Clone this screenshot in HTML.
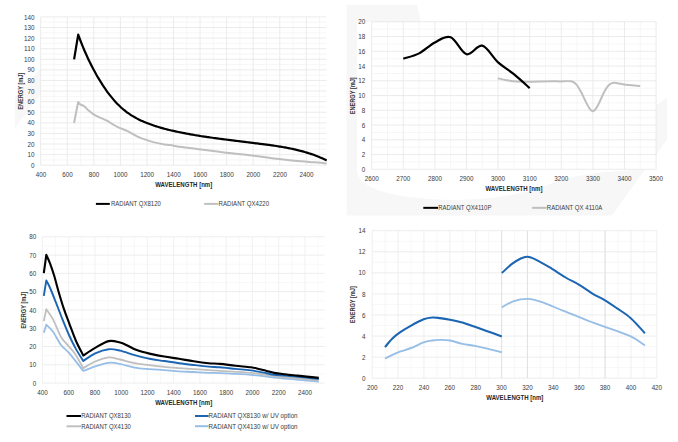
<!DOCTYPE html>
<html><head><meta charset="utf-8"><style>
html,body{margin:0;padding:0;background:#fff;width:678px;height:442px;overflow:hidden}
svg{display:block;font-family:"Liberation Sans",sans-serif}
</style></head><body>
<svg width="678" height="442" viewBox="0 0 678 442" font-family="Liberation Sans, sans-serif">
<rect x="0" y="0" width="678" height="442" fill="#ffffff"/>
<path d="M15 128 L15 98 L40.6 68 L40.6 94 Z" fill="#f7f7f7"/>
<path d="M346.5 5 L417 5 L421 22 L357 22 L357 172 C360 187 385 196 430 199 C470 202 510 198 545 186 C570 175 610 170 644.5 170 L612 215.5 L346.5 215.5 Z" fill="#f7f7f7"/>
<path d="M656 105 L667 98 L667 139 L656 155 Z" fill="#f7f7f7"/>
<line x1="53.98" y1="16.9" x2="53.98" y2="165.2" stroke="#f5f5f5" stroke-width="0.9"/>
<line x1="80.54" y1="16.9" x2="80.54" y2="165.2" stroke="#f5f5f5" stroke-width="0.9"/>
<line x1="107.1" y1="16.9" x2="107.1" y2="165.2" stroke="#f5f5f5" stroke-width="0.9"/>
<line x1="133.66" y1="16.9" x2="133.66" y2="165.2" stroke="#f5f5f5" stroke-width="0.9"/>
<line x1="160.22" y1="16.9" x2="160.22" y2="165.2" stroke="#f5f5f5" stroke-width="0.9"/>
<line x1="186.78" y1="16.9" x2="186.78" y2="165.2" stroke="#f5f5f5" stroke-width="0.9"/>
<line x1="213.34" y1="16.9" x2="213.34" y2="165.2" stroke="#f5f5f5" stroke-width="0.9"/>
<line x1="239.9" y1="16.9" x2="239.9" y2="165.2" stroke="#f5f5f5" stroke-width="0.9"/>
<line x1="266.46" y1="16.9" x2="266.46" y2="165.2" stroke="#f5f5f5" stroke-width="0.9"/>
<line x1="293.02" y1="16.9" x2="293.02" y2="165.2" stroke="#f5f5f5" stroke-width="0.9"/>
<line x1="319.58" y1="16.9" x2="319.58" y2="165.2" stroke="#f5f5f5" stroke-width="0.9"/>
<line x1="40.7" y1="159.9" x2="326.3" y2="159.9" stroke="#f5f5f5" stroke-width="0.9"/>
<line x1="40.7" y1="149.31" x2="326.3" y2="149.31" stroke="#f5f5f5" stroke-width="0.9"/>
<line x1="40.7" y1="138.72" x2="326.3" y2="138.72" stroke="#f5f5f5" stroke-width="0.9"/>
<line x1="40.7" y1="128.12" x2="326.3" y2="128.12" stroke="#f5f5f5" stroke-width="0.9"/>
<line x1="40.7" y1="117.53" x2="326.3" y2="117.53" stroke="#f5f5f5" stroke-width="0.9"/>
<line x1="40.7" y1="106.94" x2="326.3" y2="106.94" stroke="#f5f5f5" stroke-width="0.9"/>
<line x1="40.7" y1="96.35" x2="326.3" y2="96.35" stroke="#f5f5f5" stroke-width="0.9"/>
<line x1="40.7" y1="85.75" x2="326.3" y2="85.75" stroke="#f5f5f5" stroke-width="0.9"/>
<line x1="40.7" y1="75.16" x2="326.3" y2="75.16" stroke="#f5f5f5" stroke-width="0.9"/>
<line x1="40.7" y1="64.57" x2="326.3" y2="64.57" stroke="#f5f5f5" stroke-width="0.9"/>
<line x1="40.7" y1="53.97" x2="326.3" y2="53.97" stroke="#f5f5f5" stroke-width="0.9"/>
<line x1="40.7" y1="43.38" x2="326.3" y2="43.38" stroke="#f5f5f5" stroke-width="0.9"/>
<line x1="40.7" y1="32.79" x2="326.3" y2="32.79" stroke="#f5f5f5" stroke-width="0.9"/>
<line x1="40.7" y1="22.2" x2="326.3" y2="22.2" stroke="#f5f5f5" stroke-width="0.9"/>
<line x1="40.7" y1="16.9" x2="40.7" y2="165.2" stroke="#e9e9e9" stroke-width="0.9"/>
<line x1="67.26" y1="16.9" x2="67.26" y2="165.2" stroke="#e9e9e9" stroke-width="0.9"/>
<line x1="93.82" y1="16.9" x2="93.82" y2="165.2" stroke="#e9e9e9" stroke-width="0.9"/>
<line x1="120.38" y1="16.9" x2="120.38" y2="165.2" stroke="#e9e9e9" stroke-width="0.9"/>
<line x1="146.94" y1="16.9" x2="146.94" y2="165.2" stroke="#e9e9e9" stroke-width="0.9"/>
<line x1="173.5" y1="16.9" x2="173.5" y2="165.2" stroke="#e9e9e9" stroke-width="0.9"/>
<line x1="200.06" y1="16.9" x2="200.06" y2="165.2" stroke="#e9e9e9" stroke-width="0.9"/>
<line x1="226.62" y1="16.9" x2="226.62" y2="165.2" stroke="#e9e9e9" stroke-width="0.9"/>
<line x1="253.18" y1="16.9" x2="253.18" y2="165.2" stroke="#e9e9e9" stroke-width="0.9"/>
<line x1="279.74" y1="16.9" x2="279.74" y2="165.2" stroke="#e9e9e9" stroke-width="0.9"/>
<line x1="306.3" y1="16.9" x2="306.3" y2="165.2" stroke="#e9e9e9" stroke-width="0.9"/>
<line x1="40.7" y1="165.2" x2="326.3" y2="165.2" stroke="#e9e9e9" stroke-width="0.9"/>
<line x1="40.7" y1="154.61" x2="326.3" y2="154.61" stroke="#e9e9e9" stroke-width="0.9"/>
<line x1="40.7" y1="144.01" x2="326.3" y2="144.01" stroke="#e9e9e9" stroke-width="0.9"/>
<line x1="40.7" y1="133.42" x2="326.3" y2="133.42" stroke="#e9e9e9" stroke-width="0.9"/>
<line x1="40.7" y1="122.83" x2="326.3" y2="122.83" stroke="#e9e9e9" stroke-width="0.9"/>
<line x1="40.7" y1="112.24" x2="326.3" y2="112.24" stroke="#e9e9e9" stroke-width="0.9"/>
<line x1="40.7" y1="101.64" x2="326.3" y2="101.64" stroke="#e9e9e9" stroke-width="0.9"/>
<line x1="40.7" y1="91.05" x2="326.3" y2="91.05" stroke="#e9e9e9" stroke-width="0.9"/>
<line x1="40.7" y1="80.46" x2="326.3" y2="80.46" stroke="#e9e9e9" stroke-width="0.9"/>
<line x1="40.7" y1="69.86" x2="326.3" y2="69.86" stroke="#e9e9e9" stroke-width="0.9"/>
<line x1="40.7" y1="59.27" x2="326.3" y2="59.27" stroke="#e9e9e9" stroke-width="0.9"/>
<line x1="40.7" y1="48.68" x2="326.3" y2="48.68" stroke="#e9e9e9" stroke-width="0.9"/>
<line x1="40.7" y1="38.09" x2="326.3" y2="38.09" stroke="#e9e9e9" stroke-width="0.9"/>
<line x1="40.7" y1="27.49" x2="326.3" y2="27.49" stroke="#e9e9e9" stroke-width="0.9"/>
<line x1="40.7" y1="16.9" x2="326.3" y2="16.9" stroke="#e9e9e9" stroke-width="0.9"/>
<text x="40.9" y="177" text-anchor="middle" font-size="6.8" font-weight="normal" fill="#3a3a3a" textLength="10.5" lengthAdjust="spacingAndGlyphs">400</text>
<text x="67.46" y="177" text-anchor="middle" font-size="6.8" font-weight="normal" fill="#3a3a3a" textLength="10.5" lengthAdjust="spacingAndGlyphs">600</text>
<text x="94.02" y="177" text-anchor="middle" font-size="6.8" font-weight="normal" fill="#3a3a3a" textLength="10.5" lengthAdjust="spacingAndGlyphs">800</text>
<text x="120.58" y="177" text-anchor="middle" font-size="6.8" font-weight="normal" fill="#3a3a3a" textLength="14" lengthAdjust="spacingAndGlyphs">1000</text>
<text x="147.14" y="177" text-anchor="middle" font-size="6.8" font-weight="normal" fill="#3a3a3a" textLength="14" lengthAdjust="spacingAndGlyphs">1200</text>
<text x="173.7" y="177" text-anchor="middle" font-size="6.8" font-weight="normal" fill="#3a3a3a" textLength="14" lengthAdjust="spacingAndGlyphs">1400</text>
<text x="200.26" y="177" text-anchor="middle" font-size="6.8" font-weight="normal" fill="#3a3a3a" textLength="14" lengthAdjust="spacingAndGlyphs">1600</text>
<text x="226.82" y="177" text-anchor="middle" font-size="6.8" font-weight="normal" fill="#3a3a3a" textLength="14" lengthAdjust="spacingAndGlyphs">1800</text>
<text x="253.38" y="177" text-anchor="middle" font-size="6.8" font-weight="normal" fill="#3a3a3a" textLength="14" lengthAdjust="spacingAndGlyphs">2000</text>
<text x="279.94" y="177" text-anchor="middle" font-size="6.8" font-weight="normal" fill="#3a3a3a" textLength="14" lengthAdjust="spacingAndGlyphs">2200</text>
<text x="306.5" y="177" text-anchor="middle" font-size="6.8" font-weight="normal" fill="#3a3a3a" textLength="14" lengthAdjust="spacingAndGlyphs">2400</text>
<text x="34.6" y="167.8" text-anchor="end" font-size="6.8" font-weight="normal" fill="#3a3a3a" textLength="3.5" lengthAdjust="spacingAndGlyphs">0</text>
<text x="34.6" y="157.21" text-anchor="end" font-size="6.8" font-weight="normal" fill="#3a3a3a" textLength="7" lengthAdjust="spacingAndGlyphs">10</text>
<text x="34.6" y="146.61" text-anchor="end" font-size="6.8" font-weight="normal" fill="#3a3a3a" textLength="7" lengthAdjust="spacingAndGlyphs">20</text>
<text x="34.6" y="136.02" text-anchor="end" font-size="6.8" font-weight="normal" fill="#3a3a3a" textLength="7" lengthAdjust="spacingAndGlyphs">30</text>
<text x="34.6" y="125.43" text-anchor="end" font-size="6.8" font-weight="normal" fill="#3a3a3a" textLength="7" lengthAdjust="spacingAndGlyphs">40</text>
<text x="34.6" y="114.84" text-anchor="end" font-size="6.8" font-weight="normal" fill="#3a3a3a" textLength="7" lengthAdjust="spacingAndGlyphs">50</text>
<text x="34.6" y="104.24" text-anchor="end" font-size="6.8" font-weight="normal" fill="#3a3a3a" textLength="7" lengthAdjust="spacingAndGlyphs">60</text>
<text x="34.6" y="93.65" text-anchor="end" font-size="6.8" font-weight="normal" fill="#3a3a3a" textLength="7" lengthAdjust="spacingAndGlyphs">70</text>
<text x="34.6" y="83.06" text-anchor="end" font-size="6.8" font-weight="normal" fill="#3a3a3a" textLength="7" lengthAdjust="spacingAndGlyphs">80</text>
<text x="34.6" y="72.46" text-anchor="end" font-size="6.8" font-weight="normal" fill="#3a3a3a" textLength="7" lengthAdjust="spacingAndGlyphs">90</text>
<text x="34.6" y="61.87" text-anchor="end" font-size="6.8" font-weight="normal" fill="#3a3a3a" textLength="10.5" lengthAdjust="spacingAndGlyphs">100</text>
<text x="34.6" y="51.28" text-anchor="end" font-size="6.8" font-weight="normal" fill="#3a3a3a" textLength="10.5" lengthAdjust="spacingAndGlyphs">110</text>
<text x="34.6" y="40.69" text-anchor="end" font-size="6.8" font-weight="normal" fill="#3a3a3a" textLength="10.5" lengthAdjust="spacingAndGlyphs">120</text>
<text x="34.6" y="30.09" text-anchor="end" font-size="6.8" font-weight="normal" fill="#3a3a3a" textLength="10.5" lengthAdjust="spacingAndGlyphs">130</text>
<text x="34.6" y="19.5" text-anchor="end" font-size="6.8" font-weight="normal" fill="#3a3a3a" textLength="10.5" lengthAdjust="spacingAndGlyphs">140</text>
<line x1="387.5" y1="21.8" x2="387.5" y2="169.3" stroke="#f5f5f5" stroke-width="0.9"/>
<line x1="419.1" y1="21.8" x2="419.1" y2="169.3" stroke="#f5f5f5" stroke-width="0.9"/>
<line x1="450.7" y1="21.8" x2="450.7" y2="169.3" stroke="#f5f5f5" stroke-width="0.9"/>
<line x1="482.3" y1="21.8" x2="482.3" y2="169.3" stroke="#f5f5f5" stroke-width="0.9"/>
<line x1="513.9" y1="21.8" x2="513.9" y2="169.3" stroke="#f5f5f5" stroke-width="0.9"/>
<line x1="545.5" y1="21.8" x2="545.5" y2="169.3" stroke="#f5f5f5" stroke-width="0.9"/>
<line x1="577.1" y1="21.8" x2="577.1" y2="169.3" stroke="#f5f5f5" stroke-width="0.9"/>
<line x1="608.7" y1="21.8" x2="608.7" y2="169.3" stroke="#f5f5f5" stroke-width="0.9"/>
<line x1="640.3" y1="21.8" x2="640.3" y2="169.3" stroke="#f5f5f5" stroke-width="0.9"/>
<line x1="371.7" y1="161.93" x2="656.1" y2="161.93" stroke="#f5f5f5" stroke-width="0.9"/>
<line x1="371.7" y1="147.18" x2="656.1" y2="147.18" stroke="#f5f5f5" stroke-width="0.9"/>
<line x1="371.7" y1="132.43" x2="656.1" y2="132.43" stroke="#f5f5f5" stroke-width="0.9"/>
<line x1="371.7" y1="117.68" x2="656.1" y2="117.68" stroke="#f5f5f5" stroke-width="0.9"/>
<line x1="371.7" y1="102.93" x2="656.1" y2="102.93" stroke="#f5f5f5" stroke-width="0.9"/>
<line x1="371.7" y1="88.18" x2="656.1" y2="88.18" stroke="#f5f5f5" stroke-width="0.9"/>
<line x1="371.7" y1="73.43" x2="656.1" y2="73.43" stroke="#f5f5f5" stroke-width="0.9"/>
<line x1="371.7" y1="58.68" x2="656.1" y2="58.68" stroke="#f5f5f5" stroke-width="0.9"/>
<line x1="371.7" y1="43.93" x2="656.1" y2="43.93" stroke="#f5f5f5" stroke-width="0.9"/>
<line x1="371.7" y1="29.18" x2="656.1" y2="29.18" stroke="#f5f5f5" stroke-width="0.9"/>
<line x1="371.7" y1="21.8" x2="371.7" y2="169.3" stroke="#e9e9e9" stroke-width="0.9"/>
<line x1="403.3" y1="21.8" x2="403.3" y2="169.3" stroke="#e9e9e9" stroke-width="0.9"/>
<line x1="434.9" y1="21.8" x2="434.9" y2="169.3" stroke="#e9e9e9" stroke-width="0.9"/>
<line x1="466.5" y1="21.8" x2="466.5" y2="169.3" stroke="#e9e9e9" stroke-width="0.9"/>
<line x1="498.1" y1="21.8" x2="498.1" y2="169.3" stroke="#e9e9e9" stroke-width="0.9"/>
<line x1="529.7" y1="21.8" x2="529.7" y2="169.3" stroke="#e9e9e9" stroke-width="0.9"/>
<line x1="561.3" y1="21.8" x2="561.3" y2="169.3" stroke="#e9e9e9" stroke-width="0.9"/>
<line x1="592.9" y1="21.8" x2="592.9" y2="169.3" stroke="#e9e9e9" stroke-width="0.9"/>
<line x1="624.5" y1="21.8" x2="624.5" y2="169.3" stroke="#e9e9e9" stroke-width="0.9"/>
<line x1="656.1" y1="21.8" x2="656.1" y2="169.3" stroke="#e9e9e9" stroke-width="0.9"/>
<line x1="371.7" y1="169.3" x2="656.1" y2="169.3" stroke="#e9e9e9" stroke-width="0.9"/>
<line x1="371.7" y1="154.55" x2="656.1" y2="154.55" stroke="#e9e9e9" stroke-width="0.9"/>
<line x1="371.7" y1="139.8" x2="656.1" y2="139.8" stroke="#e9e9e9" stroke-width="0.9"/>
<line x1="371.7" y1="125.05" x2="656.1" y2="125.05" stroke="#e9e9e9" stroke-width="0.9"/>
<line x1="371.7" y1="110.3" x2="656.1" y2="110.3" stroke="#e9e9e9" stroke-width="0.9"/>
<line x1="371.7" y1="95.55" x2="656.1" y2="95.55" stroke="#e9e9e9" stroke-width="0.9"/>
<line x1="371.7" y1="80.8" x2="656.1" y2="80.8" stroke="#e9e9e9" stroke-width="0.9"/>
<line x1="371.7" y1="66.05" x2="656.1" y2="66.05" stroke="#e9e9e9" stroke-width="0.9"/>
<line x1="371.7" y1="51.3" x2="656.1" y2="51.3" stroke="#e9e9e9" stroke-width="0.9"/>
<line x1="371.7" y1="36.55" x2="656.1" y2="36.55" stroke="#e9e9e9" stroke-width="0.9"/>
<line x1="371.7" y1="21.8" x2="656.1" y2="21.8" stroke="#e9e9e9" stroke-width="0.9"/>
<text x="371.7" y="181.1" text-anchor="middle" font-size="6.8" font-weight="normal" fill="#3a3a3a" textLength="14" lengthAdjust="spacingAndGlyphs">2600</text>
<text x="403.3" y="181.1" text-anchor="middle" font-size="6.8" font-weight="normal" fill="#3a3a3a" textLength="14" lengthAdjust="spacingAndGlyphs">2700</text>
<text x="434.9" y="181.1" text-anchor="middle" font-size="6.8" font-weight="normal" fill="#3a3a3a" textLength="14" lengthAdjust="spacingAndGlyphs">2800</text>
<text x="466.5" y="181.1" text-anchor="middle" font-size="6.8" font-weight="normal" fill="#3a3a3a" textLength="14" lengthAdjust="spacingAndGlyphs">2900</text>
<text x="498.1" y="181.1" text-anchor="middle" font-size="6.8" font-weight="normal" fill="#3a3a3a" textLength="14" lengthAdjust="spacingAndGlyphs">3000</text>
<text x="529.7" y="181.1" text-anchor="middle" font-size="6.8" font-weight="normal" fill="#3a3a3a" textLength="14" lengthAdjust="spacingAndGlyphs">3100</text>
<text x="561.3" y="181.1" text-anchor="middle" font-size="6.8" font-weight="normal" fill="#3a3a3a" textLength="14" lengthAdjust="spacingAndGlyphs">3200</text>
<text x="592.9" y="181.1" text-anchor="middle" font-size="6.8" font-weight="normal" fill="#3a3a3a" textLength="14" lengthAdjust="spacingAndGlyphs">3300</text>
<text x="624.5" y="181.1" text-anchor="middle" font-size="6.8" font-weight="normal" fill="#3a3a3a" textLength="14" lengthAdjust="spacingAndGlyphs">3400</text>
<text x="656.1" y="181.1" text-anchor="middle" font-size="6.8" font-weight="normal" fill="#3a3a3a" textLength="14" lengthAdjust="spacingAndGlyphs">3500</text>
<text x="365.2" y="171.9" text-anchor="end" font-size="6.8" font-weight="normal" fill="#3a3a3a" textLength="3.5" lengthAdjust="spacingAndGlyphs">0</text>
<text x="365.2" y="157.15" text-anchor="end" font-size="6.8" font-weight="normal" fill="#3a3a3a" textLength="3.5" lengthAdjust="spacingAndGlyphs">2</text>
<text x="365.2" y="142.4" text-anchor="end" font-size="6.8" font-weight="normal" fill="#3a3a3a" textLength="3.5" lengthAdjust="spacingAndGlyphs">4</text>
<text x="365.2" y="127.65" text-anchor="end" font-size="6.8" font-weight="normal" fill="#3a3a3a" textLength="3.5" lengthAdjust="spacingAndGlyphs">6</text>
<text x="365.2" y="112.9" text-anchor="end" font-size="6.8" font-weight="normal" fill="#3a3a3a" textLength="3.5" lengthAdjust="spacingAndGlyphs">8</text>
<text x="365.2" y="98.15" text-anchor="end" font-size="6.8" font-weight="normal" fill="#3a3a3a" textLength="7" lengthAdjust="spacingAndGlyphs">10</text>
<text x="365.2" y="83.4" text-anchor="end" font-size="6.8" font-weight="normal" fill="#3a3a3a" textLength="7" lengthAdjust="spacingAndGlyphs">12</text>
<text x="365.2" y="68.65" text-anchor="end" font-size="6.8" font-weight="normal" fill="#3a3a3a" textLength="7" lengthAdjust="spacingAndGlyphs">14</text>
<text x="365.2" y="53.9" text-anchor="end" font-size="6.8" font-weight="normal" fill="#3a3a3a" textLength="7" lengthAdjust="spacingAndGlyphs">16</text>
<text x="365.2" y="39.15" text-anchor="end" font-size="6.8" font-weight="normal" fill="#3a3a3a" textLength="7" lengthAdjust="spacingAndGlyphs">18</text>
<text x="365.2" y="24.4" text-anchor="end" font-size="6.8" font-weight="normal" fill="#3a3a3a" textLength="7" lengthAdjust="spacingAndGlyphs">20</text>
<line x1="55.52" y1="236.8" x2="55.52" y2="383.1" stroke="#f7f7f7" stroke-width="0.9"/>
<line x1="81.78" y1="236.8" x2="81.78" y2="383.1" stroke="#f7f7f7" stroke-width="0.9"/>
<line x1="108.03" y1="236.8" x2="108.03" y2="383.1" stroke="#f7f7f7" stroke-width="0.9"/>
<line x1="134.28" y1="236.8" x2="134.28" y2="383.1" stroke="#f7f7f7" stroke-width="0.9"/>
<line x1="160.53" y1="236.8" x2="160.53" y2="383.1" stroke="#f7f7f7" stroke-width="0.9"/>
<line x1="186.78" y1="236.8" x2="186.78" y2="383.1" stroke="#f7f7f7" stroke-width="0.9"/>
<line x1="213.03" y1="236.8" x2="213.03" y2="383.1" stroke="#f7f7f7" stroke-width="0.9"/>
<line x1="239.28" y1="236.8" x2="239.28" y2="383.1" stroke="#f7f7f7" stroke-width="0.9"/>
<line x1="265.52" y1="236.8" x2="265.52" y2="383.1" stroke="#f7f7f7" stroke-width="0.9"/>
<line x1="291.77" y1="236.8" x2="291.77" y2="383.1" stroke="#f7f7f7" stroke-width="0.9"/>
<line x1="318.02" y1="236.8" x2="318.02" y2="383.1" stroke="#f7f7f7" stroke-width="0.9"/>
<line x1="42.4" y1="373.96" x2="324.6" y2="373.96" stroke="#f7f7f7" stroke-width="0.9"/>
<line x1="42.4" y1="355.67" x2="324.6" y2="355.67" stroke="#f7f7f7" stroke-width="0.9"/>
<line x1="42.4" y1="337.38" x2="324.6" y2="337.38" stroke="#f7f7f7" stroke-width="0.9"/>
<line x1="42.4" y1="319.09" x2="324.6" y2="319.09" stroke="#f7f7f7" stroke-width="0.9"/>
<line x1="42.4" y1="300.81" x2="324.6" y2="300.81" stroke="#f7f7f7" stroke-width="0.9"/>
<line x1="42.4" y1="282.52" x2="324.6" y2="282.52" stroke="#f7f7f7" stroke-width="0.9"/>
<line x1="42.4" y1="264.23" x2="324.6" y2="264.23" stroke="#f7f7f7" stroke-width="0.9"/>
<line x1="42.4" y1="245.94" x2="324.6" y2="245.94" stroke="#f7f7f7" stroke-width="0.9"/>
<line x1="42.4" y1="236.8" x2="42.4" y2="383.1" stroke="#efefef" stroke-width="0.9"/>
<line x1="68.65" y1="236.8" x2="68.65" y2="383.1" stroke="#efefef" stroke-width="0.9"/>
<line x1="94.9" y1="236.8" x2="94.9" y2="383.1" stroke="#efefef" stroke-width="0.9"/>
<line x1="121.15" y1="236.8" x2="121.15" y2="383.1" stroke="#efefef" stroke-width="0.9"/>
<line x1="147.4" y1="236.8" x2="147.4" y2="383.1" stroke="#efefef" stroke-width="0.9"/>
<line x1="173.65" y1="236.8" x2="173.65" y2="383.1" stroke="#efefef" stroke-width="0.9"/>
<line x1="199.9" y1="236.8" x2="199.9" y2="383.1" stroke="#efefef" stroke-width="0.9"/>
<line x1="226.15" y1="236.8" x2="226.15" y2="383.1" stroke="#efefef" stroke-width="0.9"/>
<line x1="252.4" y1="236.8" x2="252.4" y2="383.1" stroke="#efefef" stroke-width="0.9"/>
<line x1="278.65" y1="236.8" x2="278.65" y2="383.1" stroke="#efefef" stroke-width="0.9"/>
<line x1="304.9" y1="236.8" x2="304.9" y2="383.1" stroke="#efefef" stroke-width="0.9"/>
<line x1="42.4" y1="383.1" x2="324.6" y2="383.1" stroke="#ebebeb" stroke-width="0.9"/>
<line x1="42.4" y1="364.81" x2="324.6" y2="364.81" stroke="#ebebeb" stroke-width="0.9"/>
<line x1="42.4" y1="346.53" x2="324.6" y2="346.53" stroke="#ebebeb" stroke-width="0.9"/>
<line x1="42.4" y1="328.24" x2="324.6" y2="328.24" stroke="#ebebeb" stroke-width="0.9"/>
<line x1="42.4" y1="309.95" x2="324.6" y2="309.95" stroke="#ebebeb" stroke-width="0.9"/>
<line x1="42.4" y1="291.66" x2="324.6" y2="291.66" stroke="#ebebeb" stroke-width="0.9"/>
<line x1="42.4" y1="273.38" x2="324.6" y2="273.38" stroke="#ebebeb" stroke-width="0.9"/>
<line x1="42.4" y1="255.09" x2="324.6" y2="255.09" stroke="#ebebeb" stroke-width="0.9"/>
<line x1="42.4" y1="236.8" x2="324.6" y2="236.8" stroke="#ebebeb" stroke-width="0.9"/>
<text x="42.4" y="394.6" text-anchor="middle" font-size="6.8" font-weight="normal" fill="#3a3a3a" textLength="10.5" lengthAdjust="spacingAndGlyphs">400</text>
<text x="68.65" y="394.6" text-anchor="middle" font-size="6.8" font-weight="normal" fill="#3a3a3a" textLength="10.5" lengthAdjust="spacingAndGlyphs">600</text>
<text x="94.9" y="394.6" text-anchor="middle" font-size="6.8" font-weight="normal" fill="#3a3a3a" textLength="10.5" lengthAdjust="spacingAndGlyphs">800</text>
<text x="121.15" y="394.6" text-anchor="middle" font-size="6.8" font-weight="normal" fill="#3a3a3a" textLength="14" lengthAdjust="spacingAndGlyphs">1000</text>
<text x="147.4" y="394.6" text-anchor="middle" font-size="6.8" font-weight="normal" fill="#3a3a3a" textLength="14" lengthAdjust="spacingAndGlyphs">1200</text>
<text x="173.65" y="394.6" text-anchor="middle" font-size="6.8" font-weight="normal" fill="#3a3a3a" textLength="14" lengthAdjust="spacingAndGlyphs">1400</text>
<text x="199.9" y="394.6" text-anchor="middle" font-size="6.8" font-weight="normal" fill="#3a3a3a" textLength="14" lengthAdjust="spacingAndGlyphs">1600</text>
<text x="226.15" y="394.6" text-anchor="middle" font-size="6.8" font-weight="normal" fill="#3a3a3a" textLength="14" lengthAdjust="spacingAndGlyphs">1800</text>
<text x="252.4" y="394.6" text-anchor="middle" font-size="6.8" font-weight="normal" fill="#3a3a3a" textLength="14" lengthAdjust="spacingAndGlyphs">2000</text>
<text x="278.65" y="394.6" text-anchor="middle" font-size="6.8" font-weight="normal" fill="#3a3a3a" textLength="14" lengthAdjust="spacingAndGlyphs">2200</text>
<text x="304.9" y="394.6" text-anchor="middle" font-size="6.8" font-weight="normal" fill="#3a3a3a" textLength="14" lengthAdjust="spacingAndGlyphs">2400</text>
<text x="36.2" y="385.7" text-anchor="end" font-size="6.8" font-weight="normal" fill="#3a3a3a" textLength="3.5" lengthAdjust="spacingAndGlyphs">0</text>
<text x="36.2" y="367.41" text-anchor="end" font-size="6.8" font-weight="normal" fill="#3a3a3a" textLength="7" lengthAdjust="spacingAndGlyphs">10</text>
<text x="36.2" y="349.13" text-anchor="end" font-size="6.8" font-weight="normal" fill="#3a3a3a" textLength="7" lengthAdjust="spacingAndGlyphs">20</text>
<text x="36.2" y="330.84" text-anchor="end" font-size="6.8" font-weight="normal" fill="#3a3a3a" textLength="7" lengthAdjust="spacingAndGlyphs">30</text>
<text x="36.2" y="312.55" text-anchor="end" font-size="6.8" font-weight="normal" fill="#3a3a3a" textLength="7" lengthAdjust="spacingAndGlyphs">40</text>
<text x="36.2" y="294.26" text-anchor="end" font-size="6.8" font-weight="normal" fill="#3a3a3a" textLength="7" lengthAdjust="spacingAndGlyphs">50</text>
<text x="36.2" y="275.98" text-anchor="end" font-size="6.8" font-weight="normal" fill="#3a3a3a" textLength="7" lengthAdjust="spacingAndGlyphs">60</text>
<text x="36.2" y="257.69" text-anchor="end" font-size="6.8" font-weight="normal" fill="#3a3a3a" textLength="7" lengthAdjust="spacingAndGlyphs">70</text>
<text x="36.2" y="239.4" text-anchor="end" font-size="6.8" font-weight="normal" fill="#3a3a3a" textLength="7" lengthAdjust="spacingAndGlyphs">80</text>
<line x1="385.14" y1="230.7" x2="385.14" y2="378.2" stroke="#f6f6f6" stroke-width="0.9"/>
<line x1="411.02" y1="230.7" x2="411.02" y2="378.2" stroke="#f6f6f6" stroke-width="0.9"/>
<line x1="436.9" y1="230.7" x2="436.9" y2="378.2" stroke="#f6f6f6" stroke-width="0.9"/>
<line x1="462.78" y1="230.7" x2="462.78" y2="378.2" stroke="#f6f6f6" stroke-width="0.9"/>
<line x1="488.66" y1="230.7" x2="488.66" y2="378.2" stroke="#f6f6f6" stroke-width="0.9"/>
<line x1="514.54" y1="230.7" x2="514.54" y2="378.2" stroke="#f6f6f6" stroke-width="0.9"/>
<line x1="540.42" y1="230.7" x2="540.42" y2="378.2" stroke="#f6f6f6" stroke-width="0.9"/>
<line x1="566.3" y1="230.7" x2="566.3" y2="378.2" stroke="#f6f6f6" stroke-width="0.9"/>
<line x1="592.18" y1="230.7" x2="592.18" y2="378.2" stroke="#f6f6f6" stroke-width="0.9"/>
<line x1="618.06" y1="230.7" x2="618.06" y2="378.2" stroke="#f6f6f6" stroke-width="0.9"/>
<line x1="643.94" y1="230.7" x2="643.94" y2="378.2" stroke="#f6f6f6" stroke-width="0.9"/>
<line x1="372.2" y1="367.66" x2="656.9" y2="367.66" stroke="#f6f6f6" stroke-width="0.9"/>
<line x1="372.2" y1="346.59" x2="656.9" y2="346.59" stroke="#f6f6f6" stroke-width="0.9"/>
<line x1="372.2" y1="325.52" x2="656.9" y2="325.52" stroke="#f6f6f6" stroke-width="0.9"/>
<line x1="372.2" y1="304.45" x2="656.9" y2="304.45" stroke="#f6f6f6" stroke-width="0.9"/>
<line x1="372.2" y1="283.38" x2="656.9" y2="283.38" stroke="#f6f6f6" stroke-width="0.9"/>
<line x1="372.2" y1="262.31" x2="656.9" y2="262.31" stroke="#f6f6f6" stroke-width="0.9"/>
<line x1="372.2" y1="241.24" x2="656.9" y2="241.24" stroke="#f6f6f6" stroke-width="0.9"/>
<line x1="372.2" y1="230.7" x2="372.2" y2="378.2" stroke="#ededed" stroke-width="0.9"/>
<line x1="398.08" y1="230.7" x2="398.08" y2="378.2" stroke="#ededed" stroke-width="0.9"/>
<line x1="423.96" y1="230.7" x2="423.96" y2="378.2" stroke="#ededed" stroke-width="0.9"/>
<line x1="449.84" y1="230.7" x2="449.84" y2="378.2" stroke="#ededed" stroke-width="0.9"/>
<line x1="475.72" y1="230.7" x2="475.72" y2="378.2" stroke="#ededed" stroke-width="0.9"/>
<line x1="501.6" y1="230.7" x2="501.6" y2="378.2" stroke="#ededed" stroke-width="0.9"/>
<line x1="527.48" y1="230.7" x2="527.48" y2="378.2" stroke="#ededed" stroke-width="0.9"/>
<line x1="553.36" y1="230.7" x2="553.36" y2="378.2" stroke="#ededed" stroke-width="0.9"/>
<line x1="579.24" y1="230.7" x2="579.24" y2="378.2" stroke="#ededed" stroke-width="0.9"/>
<line x1="605.12" y1="230.7" x2="605.12" y2="378.2" stroke="#ededed" stroke-width="0.9"/>
<line x1="631" y1="230.7" x2="631" y2="378.2" stroke="#ededed" stroke-width="0.9"/>
<line x1="656.88" y1="230.7" x2="656.88" y2="378.2" stroke="#ededed" stroke-width="0.9"/>
<line x1="372.2" y1="378.2" x2="656.9" y2="378.2" stroke="#ebebeb" stroke-width="0.9"/>
<line x1="372.2" y1="357.13" x2="656.9" y2="357.13" stroke="#ebebeb" stroke-width="0.9"/>
<line x1="372.2" y1="336.06" x2="656.9" y2="336.06" stroke="#ebebeb" stroke-width="0.9"/>
<line x1="372.2" y1="314.99" x2="656.9" y2="314.99" stroke="#ebebeb" stroke-width="0.9"/>
<line x1="372.2" y1="293.91" x2="656.9" y2="293.91" stroke="#ebebeb" stroke-width="0.9"/>
<line x1="372.2" y1="272.84" x2="656.9" y2="272.84" stroke="#ebebeb" stroke-width="0.9"/>
<line x1="372.2" y1="251.77" x2="656.9" y2="251.77" stroke="#ebebeb" stroke-width="0.9"/>
<line x1="372.2" y1="230.7" x2="656.9" y2="230.7" stroke="#ebebeb" stroke-width="0.9"/>
<text x="372.2" y="390.2" text-anchor="middle" font-size="6.8" font-weight="normal" fill="#3a3a3a" textLength="10.5" lengthAdjust="spacingAndGlyphs">200</text>
<text x="398.08" y="390.2" text-anchor="middle" font-size="6.8" font-weight="normal" fill="#3a3a3a" textLength="10.5" lengthAdjust="spacingAndGlyphs">220</text>
<text x="423.96" y="390.2" text-anchor="middle" font-size="6.8" font-weight="normal" fill="#3a3a3a" textLength="10.5" lengthAdjust="spacingAndGlyphs">240</text>
<text x="449.84" y="390.2" text-anchor="middle" font-size="6.8" font-weight="normal" fill="#3a3a3a" textLength="10.5" lengthAdjust="spacingAndGlyphs">260</text>
<text x="475.72" y="390.2" text-anchor="middle" font-size="6.8" font-weight="normal" fill="#3a3a3a" textLength="10.5" lengthAdjust="spacingAndGlyphs">280</text>
<text x="501.6" y="390.2" text-anchor="middle" font-size="6.8" font-weight="normal" fill="#3a3a3a" textLength="10.5" lengthAdjust="spacingAndGlyphs">300</text>
<text x="527.48" y="390.2" text-anchor="middle" font-size="6.8" font-weight="normal" fill="#3a3a3a" textLength="10.5" lengthAdjust="spacingAndGlyphs">320</text>
<text x="553.36" y="390.2" text-anchor="middle" font-size="6.8" font-weight="normal" fill="#3a3a3a" textLength="10.5" lengthAdjust="spacingAndGlyphs">340</text>
<text x="579.24" y="390.2" text-anchor="middle" font-size="6.8" font-weight="normal" fill="#3a3a3a" textLength="10.5" lengthAdjust="spacingAndGlyphs">360</text>
<text x="605.12" y="390.2" text-anchor="middle" font-size="6.8" font-weight="normal" fill="#3a3a3a" textLength="10.5" lengthAdjust="spacingAndGlyphs">380</text>
<text x="631" y="390.2" text-anchor="middle" font-size="6.8" font-weight="normal" fill="#3a3a3a" textLength="10.5" lengthAdjust="spacingAndGlyphs">400</text>
<text x="656.88" y="390.2" text-anchor="middle" font-size="6.8" font-weight="normal" fill="#3a3a3a" textLength="10.5" lengthAdjust="spacingAndGlyphs">420</text>
<text x="365.5" y="380.8" text-anchor="end" font-size="6.8" font-weight="normal" fill="#3a3a3a" textLength="3.5" lengthAdjust="spacingAndGlyphs">0</text>
<text x="365.5" y="359.73" text-anchor="end" font-size="6.8" font-weight="normal" fill="#3a3a3a" textLength="3.5" lengthAdjust="spacingAndGlyphs">2</text>
<text x="365.5" y="338.66" text-anchor="end" font-size="6.8" font-weight="normal" fill="#3a3a3a" textLength="3.5" lengthAdjust="spacingAndGlyphs">4</text>
<text x="365.5" y="317.59" text-anchor="end" font-size="6.8" font-weight="normal" fill="#3a3a3a" textLength="3.5" lengthAdjust="spacingAndGlyphs">6</text>
<text x="365.5" y="296.51" text-anchor="end" font-size="6.8" font-weight="normal" fill="#3a3a3a" textLength="3.5" lengthAdjust="spacingAndGlyphs">8</text>
<text x="365.5" y="275.44" text-anchor="end" font-size="6.8" font-weight="normal" fill="#3a3a3a" textLength="7" lengthAdjust="spacingAndGlyphs">10</text>
<text x="365.5" y="254.37" text-anchor="end" font-size="6.8" font-weight="normal" fill="#3a3a3a" textLength="7" lengthAdjust="spacingAndGlyphs">12</text>
<text x="365.5" y="233.3" text-anchor="end" font-size="6.8" font-weight="normal" fill="#3a3a3a" textLength="7" lengthAdjust="spacingAndGlyphs">14</text>
<line x1="501.6" y1="230.7" x2="501.6" y2="378.2" stroke="#e0e0e0" stroke-width="0.9"/>
<line x1="527.48" y1="230.7" x2="527.48" y2="378.2" stroke="#e0e0e0" stroke-width="0.9"/>
<line x1="605.12" y1="230.7" x2="605.12" y2="378.2" stroke="#e0e0e0" stroke-width="0.9"/>
<text x="183.75" y="187.1" text-anchor="middle" font-size="6.8" font-weight="bold" fill="#262626" textLength="57" lengthAdjust="spacingAndGlyphs">WAVELENGTH [nm]</text>
<text x="0" y="0" text-anchor="middle" font-size="6.3" font-weight="bold" fill="#333333" textLength="37" lengthAdjust="spacingAndGlyphs" transform="translate(23.4 91.25) rotate(-90)">ENERGY [mJ]</text>
<text x="513.95" y="191.3" text-anchor="middle" font-size="6.8" font-weight="bold" fill="#262626" textLength="57" lengthAdjust="spacingAndGlyphs">WAVELENGTH [nm]</text>
<text x="0" y="0" text-anchor="middle" font-size="6.3" font-weight="bold" fill="#333333" textLength="37" lengthAdjust="spacingAndGlyphs" transform="translate(354.8 95.75) rotate(-90)">ENERGY [mJ]</text>
<text x="183.7" y="404.9" text-anchor="middle" font-size="6.8" font-weight="bold" fill="#262626" textLength="57" lengthAdjust="spacingAndGlyphs">WAVELENGTH [nm]</text>
<text x="0" y="0" text-anchor="middle" font-size="6.3" font-weight="bold" fill="#333333" textLength="37" lengthAdjust="spacingAndGlyphs" transform="translate(25.7 310.25) rotate(-90)">ENERGY [mJ]</text>
<text x="514.8" y="400.3" text-anchor="middle" font-size="6.8" font-weight="bold" fill="#262626" textLength="57" lengthAdjust="spacingAndGlyphs">WAVELENGTH [nm]</text>
<text x="0" y="0" text-anchor="middle" font-size="6.3" font-weight="bold" fill="#333333" textLength="37" lengthAdjust="spacingAndGlyphs" transform="translate(354.8 304.65) rotate(-90)">ENERGY [mJ]</text>
<path d="M74.07 123 C74.75 119.52 77.47 105.58 78.15 102.1 C78.58 102.53 79.68 104.02 80.7 104.7 C81.72 105.38 83.03 105.27 84.3 106.2 C85.57 107.13 86.62 108.85 88.3 110.3 C89.98 111.75 92.35 113.63 94.4 114.9 C96.45 116.17 98.38 116.88 100.6 117.9 C102.82 118.92 106.13 120.2 107.7 121 C109.27 121.8 108.12 121.58 110 122.7 C111.88 123.82 115.98 126.27 119 127.7 C122.02 129.13 125.08 129.87 128.1 131.3 C131.12 132.73 134.08 134.87 137.1 136.3 C140.12 137.73 143.18 138.85 146.2 139.9 C149.22 140.95 152.18 141.85 155.2 142.6 C158.22 143.35 161.83 143.98 164.3 144.4 C166.77 144.82 167.08 144.65 170 145.1 C172.92 145.55 177.87 146.52 181.8 147.1 C185.73 147.68 189.67 148.1 193.6 148.6 C197.53 149.1 201.47 149.62 205.4 150.1 C209.33 150.58 213.27 151.02 217.2 151.5 C221.13 151.98 225.07 152.55 229 153 C232.93 153.45 237.3 153.82 240.8 154.2 C244.3 154.58 246.5 154.87 250 155.3 C253.5 155.73 257.87 156.28 261.8 156.8 C265.73 157.32 269.67 157.9 273.6 158.4 C277.53 158.9 281.47 159.37 285.4 159.8 C289.33 160.23 293.27 160.65 297.2 161 C301.13 161.35 305.07 161.62 309 161.9 C312.93 162.18 317.85 162.42 320.8 162.7 C323.75 162.98 325.72 163.45 326.7 163.6" fill="none" stroke="#bfbfbf" stroke-width="2" stroke-linejoin="round" stroke-linecap="butt"/>
<path d="M74.1 59.4 C74.78 55.27 77.52 38.73 78.2 34.6 C78.53 35.5 79.54 38.24 80.2 40 C80.87 41.75 81.54 43.45 82.21 45.11 C82.88 46.77 83.54 48.39 84.21 49.97 C84.88 51.54 85.55 53.07 86.22 54.57 C86.88 56.07 87.55 57.52 88.22 58.95 C88.89 60.37 89.56 61.75 90.22 63.1 C90.89 64.46 91.56 65.77 92.23 67.06 C92.9 68.35 93.56 69.6 94.23 70.83 C94.9 72.06 95.57 73.26 96.24 74.43 C96.9 75.61 97.57 76.76 98.24 77.88 C98.91 79 99.58 80.1 100.24 81.18 C100.91 82.25 101.58 83.31 102.25 84.34 C102.92 85.37 103.58 86.38 104.25 87.37 C104.92 88.35 105.59 89.32 106.26 90.27 C106.92 91.21 107.59 92.14 108.26 93.04 C108.93 93.94 109.6 94.82 110.26 95.67 C110.93 96.53 111.6 97.36 112.27 98.16 C112.94 98.97 113.6 99.75 114.27 100.51 C114.94 101.27 115.61 102.01 116.28 102.72 C116.94 103.43 117.61 104.11 118.28 104.78 C118.95 105.44 119.62 106.08 120.28 106.71 C120.95 107.33 121.62 107.93 122.29 108.51 C122.96 109.09 123.62 109.65 124.29 110.19 C124.96 110.73 125.63 111.25 126.3 111.76 C126.96 112.26 127.63 112.75 128.3 113.22 C128.97 113.69 129.64 114.15 130.3 114.58 C130.97 115.02 131.64 115.45 132.31 115.86 C132.98 116.27 133.64 116.66 134.31 117.04 C134.98 117.43 135.65 117.79 136.32 118.15 C136.98 118.51 137.65 118.85 138.32 119.19 C138.99 119.53 139.66 119.85 140.32 120.16 C140.99 120.48 141.66 120.78 142.33 121.08 C143 121.38 143.67 121.67 144.33 121.95 C145 122.23 145.67 122.5 146.34 122.77 C147.01 123.04 147.67 123.3 148.34 123.56 C149.01 123.81 149.68 124.06 150.35 124.31 C151.01 124.55 151.68 124.79 152.35 125.03 C153.02 125.26 153.69 125.49 154.35 125.71 C155.02 125.94 155.69 126.15 156.36 126.37 C157.03 126.58 157.69 126.79 158.36 126.99 C159.03 127.2 159.7 127.4 160.37 127.59 C161.03 127.79 161.7 127.98 162.37 128.17 C163.04 128.35 163.71 128.54 164.37 128.71 C165.04 128.89 165.71 129.07 166.38 129.24 C167.05 129.41 167.71 129.58 168.38 129.74 C169.05 129.91 169.72 130.07 170.39 130.23 C171.05 130.39 171.72 130.54 172.39 130.69 C173.06 130.85 173.73 131 174.39 131.14 C175.06 131.29 175.73 131.44 176.4 131.58 C177.07 131.72 177.73 131.86 178.4 132 C179.07 132.14 179.74 132.27 180.41 132.41 C181.07 132.54 181.74 132.67 182.41 132.8 C183.08 132.93 183.75 133.06 184.41 133.19 C185.08 133.32 185.75 133.44 186.42 133.57 C187.09 133.69 187.75 133.82 188.42 133.94 C189.09 134.06 189.76 134.18 190.43 134.3 C191.09 134.42 191.76 134.53 192.43 134.65 C193.1 134.77 193.77 134.88 194.43 134.99 C195.1 135.11 195.77 135.22 196.44 135.33 C197.11 135.44 197.77 135.55 198.44 135.66 C199.11 135.77 199.78 135.87 200.45 135.98 C201.11 136.09 201.78 136.19 202.45 136.29 C203.12 136.4 203.79 136.5 204.45 136.6 C205.12 136.7 205.79 136.8 206.46 136.9 C207.13 137 207.79 137.1 208.46 137.2 C209.13 137.3 209.8 137.39 210.47 137.49 C211.13 137.59 211.8 137.68 212.47 137.78 C213.14 137.87 213.81 137.96 214.47 138.06 C215.14 138.15 215.81 138.24 216.48 138.33 C217.15 138.42 217.81 138.51 218.48 138.6 C219.15 138.69 219.82 138.78 220.49 138.87 C221.15 138.96 221.82 139.04 222.49 139.13 C223.16 139.22 223.83 139.31 224.49 139.39 C225.16 139.48 225.83 139.56 226.5 139.65 C227.17 139.73 227.83 139.82 228.5 139.9 C229.17 139.99 229.84 140.07 230.51 140.15 C231.17 140.24 231.84 140.32 232.51 140.4 C233.18 140.49 233.85 140.57 234.51 140.65 C235.18 140.73 235.85 140.81 236.52 140.9 C237.19 140.98 237.85 141.06 238.52 141.14 C239.19 141.22 239.86 141.3 240.53 141.38 C241.19 141.47 241.86 141.55 242.53 141.63 C243.2 141.71 243.87 141.79 244.53 141.87 C245.2 141.95 245.87 142.03 246.54 142.11 C247.21 142.19 247.87 142.28 248.54 142.36 C249.21 142.44 249.88 142.52 250.55 142.6 C251.21 142.68 251.88 142.76 252.55 142.84 C253.22 142.93 253.89 143.01 254.55 143.09 C255.22 143.17 255.89 143.25 256.56 143.34 C257.23 143.42 257.89 143.5 258.56 143.59 C259.23 143.67 259.9 143.75 260.57 143.84 C261.23 143.92 261.9 144.01 262.57 144.09 C263.24 144.18 263.91 144.26 264.57 144.35 C265.24 144.43 265.91 144.52 266.58 144.61 C267.25 144.7 267.92 144.79 268.58 144.88 C269.25 144.97 269.92 145.06 270.59 145.15 C271.26 145.24 271.92 145.34 272.59 145.43 C273.26 145.53 273.93 145.62 274.6 145.72 C275.26 145.82 275.93 145.92 276.6 146.02 C277.27 146.12 277.94 146.23 278.6 146.34 C279.27 146.44 279.94 146.55 280.61 146.66 C281.28 146.77 281.94 146.88 282.61 147 C283.28 147.11 283.95 147.23 284.62 147.35 C285.28 147.47 285.95 147.6 286.62 147.72 C287.29 147.85 287.96 147.98 288.62 148.11 C289.29 148.24 289.96 148.38 290.63 148.52 C291.3 148.66 291.96 148.8 292.63 148.94 C293.3 149.09 293.97 149.24 294.64 149.39 C295.3 149.54 295.97 149.7 296.64 149.86 C297.31 150.02 297.98 150.19 298.64 150.36 C299.31 150.52 299.98 150.7 300.65 150.87 C301.32 151.05 301.98 151.23 302.65 151.42 C303.32 151.6 303.99 151.79 304.66 151.99 C305.32 152.18 305.99 152.38 306.66 152.59 C307.33 152.79 308 153 308.66 153.22 C309.33 153.43 310 153.65 310.67 153.88 C311.34 154.1 312 154.33 312.67 154.57 C313.34 154.8 314.01 155.04 314.68 155.29 C315.34 155.54 316.01 155.79 316.68 156.05 C317.35 156.31 318.02 156.57 318.68 156.84 C319.35 157.11 320.02 157.39 320.69 157.67 C321.36 157.96 322.02 158.25 322.69 158.54 C323.36 158.84 324.03 159.14 324.7 159.45 C325.36 159.76 326.37 160.24 326.7 160.4" fill="none" stroke="#000000" stroke-width="2.2" stroke-linejoin="round" stroke-linecap="butt"/>
<path d="M497.8 78.2 C499.25 78.53 503.33 79.63 506.5 80.2 C509.67 80.77 512.67 81.35 516.8 81.6 C520.93 81.85 525.45 81.75 531.3 81.7 C537.15 81.65 547.12 81.35 551.9 81.3 C556.68 81.25 556.77 81.4 560 81.4 C563.23 81.4 568.58 80.8 571.3 81.3 C574.02 81.8 574.63 82.53 576.3 84.4 C577.97 86.27 579.88 89.93 581.3 92.5 C582.72 95.07 583.52 97.28 584.8 99.8 C586.08 102.32 587.67 105.7 589 107.6 C590.33 109.5 591.53 111.2 592.8 111.2 C594.07 111.2 595.3 109.5 596.6 107.6 C597.9 105.7 599.38 102.32 600.6 99.8 C601.82 97.28 602.52 94.97 603.9 92.5 C605.28 90.03 607.22 86.62 608.9 85 C610.58 83.38 611.48 82.9 614 82.8 C616.52 82.7 619.63 83.87 624 84.4 C628.37 84.93 637.5 85.73 640.2 86" fill="none" stroke="#bfbfbf" stroke-width="2" stroke-linejoin="round" stroke-linecap="butt"/>
<path d="M403.3 58.68 C405.93 57.79 413.83 56.07 419.1 53.37 C424.37 50.66 429.63 45.13 434.9 42.45 C440.17 39.77 445.43 35.32 450.7 37.29 C455.97 39.25 461.23 52.85 466.5 54.25 C471.77 55.65 477.03 44.34 482.3 45.69 C487.57 47.05 492.83 57.62 498.1 62.36 C503.37 67.11 508.63 69.86 513.9 74.16 C519.17 78.46 527.07 85.84 529.7 88.18" fill="none" stroke="#000000" stroke-width="2.2" stroke-linejoin="round" stroke-linecap="butt"/>
<path d="M43.8 332.8 C44.22 331.45 45.88 326.05 46.3 324.7 C47.4 325.83 50.45 328.12 52.9 331.5 C55.35 334.88 58.28 341.38 61 345 C63.72 348.62 65.48 348.87 69.2 353.2 C72.92 357.53 80.95 368.03 83.3 371 C85.28 370.22 90.97 367.67 95.2 366.3 C99.43 364.93 104.57 363.2 108.7 362.8 C112.83 362.4 115.67 363.1 120 363.9 C124.33 364.7 129.78 366.73 134.7 367.6 C139.62 368.47 144.58 368.68 149.5 369.1 C154.42 369.52 159.28 369.73 164.2 370.1 C169.12 370.47 174.08 370.98 179 371.3 C183.92 371.62 188.78 371.75 193.7 372 C198.62 372.25 204.12 372.6 208.5 372.8 C212.88 373 212.92 372.87 220 373.2 C227.08 373.53 241.97 374.07 251 374.8 C260.03 375.53 266.7 376.8 274.2 377.6 C281.7 378.4 288.57 378.92 296 379.6 C303.43 380.28 315 381.35 318.8 381.7" fill="none" stroke="#96bee6" stroke-width="1.8" stroke-linejoin="round" stroke-linecap="butt"/>
<path d="M43.8 321.1 C44.22 319.12 45.88 311.18 46.3 309.2 C47.4 310.87 50.45 314.58 52.9 319.2 C55.35 323.82 58.75 332.82 61 336.9 C63.25 340.98 64.13 340.98 66.4 343.7 C68.67 346.42 71.78 349.12 74.6 353.2 C77.42 357.28 81.85 365.7 83.3 368.2 C85.28 367.08 90.97 363.3 95.2 361.5 C99.43 359.7 104.57 357.73 108.7 357.4 C112.83 357.07 115.67 358.53 120 359.5 C124.33 360.47 129.78 362.27 134.7 363.2 C139.62 364.13 144.58 364.48 149.5 365.1 C154.42 365.72 159.28 366.4 164.2 366.9 C169.12 367.4 174.08 367.73 179 368.1 C183.92 368.47 188.78 368.77 193.7 369.1 C198.62 369.43 204.12 369.8 208.5 370.1 C212.88 370.4 212.92 370.43 220 370.9 C227.08 371.37 241.97 372.05 251 372.9 C260.03 373.75 266.7 375.1 274.2 376 C281.7 376.9 288.57 377.52 296 378.3 C303.43 379.08 315 380.3 318.8 380.7" fill="none" stroke="#bfbfbf" stroke-width="1.8" stroke-linejoin="round" stroke-linecap="butt"/>
<path d="M43.8 295.8 C44.22 293.23 45.88 282.97 46.3 280.4 C46.93 281.67 48.55 284.47 50.1 288 C51.65 291.53 53.55 296.4 55.6 301.6 C57.65 306.8 60.13 313.55 62.4 319.2 C64.67 324.85 66.93 330.52 69.2 335.5 C71.47 340.48 73.65 344.87 76 349.1 C78.35 353.33 82.08 358.93 83.3 360.9 C85.28 359.63 90.97 355.25 95.2 353.3 C99.43 351.35 104.57 349.65 108.7 349.2 C112.83 348.75 115.67 349.62 120 350.6 C124.33 351.58 129.78 353.73 134.7 355.1 C139.62 356.47 144.58 357.82 149.5 358.8 C154.42 359.78 159.28 360.27 164.2 361 C169.12 361.73 174.08 362.53 179 363.2 C183.92 363.87 188.78 364.43 193.7 365 C198.62 365.57 204.12 366.22 208.5 366.6 C212.88 366.98 215.5 366.92 220 367.3 C224.5 367.68 230.33 368.38 235.5 368.9 C240.67 369.42 245.83 369.68 251 370.4 C256.17 371.12 262.63 372.47 266.5 373.2 C270.37 373.93 270.33 374.33 274.2 374.8 C278.07 375.27 282.27 375.28 289.7 376 C297.13 376.72 313.95 378.58 318.8 379.1" fill="none" stroke="#1b65b3" stroke-width="1.9" stroke-linejoin="round" stroke-linecap="butt"/>
<path d="M43.8 273.2 C44.22 270.15 45.88 257.95 46.3 254.9 C46.93 256.35 48.78 260.12 50.1 263.6 C51.42 267.08 52.83 271.28 54.2 275.8 C55.57 280.32 56.72 285.27 58.3 290.7 C59.88 296.13 61.88 302.97 63.7 308.4 C65.52 313.83 67.15 317.87 69.2 323.3 C71.25 328.73 73.65 335.63 76 341 C78.35 346.37 82.08 353.08 83.3 355.5 C85.28 354.23 90.97 350.3 95.2 347.9 C99.43 345.5 104.57 342 108.7 341.1 C112.83 340.2 116.88 341.77 120 342.5 C123.12 343.23 124.95 344.38 127.4 345.5 C129.85 346.62 132.25 348.15 134.7 349.2 C137.15 350.25 139.63 351.07 142.1 351.8 C144.57 352.53 145.82 352.82 149.5 353.6 C153.18 354.38 159.28 355.63 164.2 356.5 C169.12 357.37 174.08 358 179 358.8 C183.92 359.6 188.78 360.57 193.7 361.3 C198.62 362.03 204.12 362.77 208.5 363.2 C212.88 363.63 215.5 363.47 220 363.9 C224.5 364.33 230.33 365.23 235.5 365.8 C240.67 366.37 247.13 366.78 251 367.3 C254.87 367.82 256.12 368.3 258.7 368.9 C261.28 369.5 263.92 370.23 266.5 370.9 C269.08 371.57 271.12 372.33 274.2 372.9 C277.28 373.47 281.13 373.85 285 374.3 C288.87 374.75 293.78 375.22 297.4 375.6 C301.02 375.98 303.13 376.22 306.7 376.6 C310.27 376.98 316.78 377.68 318.8 377.9" fill="none" stroke="#000000" stroke-width="2.1" stroke-linejoin="round" stroke-linecap="butt"/>
<path d="M385 358.5 C386.23 357.88 389.92 355.93 392.4 354.8 C394.88 353.67 396.78 352.83 399.9 351.7 C403.02 350.57 407.15 349.55 411.1 348 C415.05 346.45 420.07 343.65 423.6 342.4 C427.13 341.15 429.57 340.92 432.3 340.5 C435.03 340.08 437.05 339.9 440 339.9 C442.95 339.9 446.27 339.83 450 340.5 C453.73 341.17 458.25 343 462.4 343.9 C466.55 344.8 470.75 345.12 474.9 345.9 C479.05 346.68 482.82 347.53 487.3 348.6 C491.78 349.67 499.38 351.68 501.8 352.3" fill="none" stroke="#96bee6" stroke-width="1.9" stroke-linejoin="round" stroke-linecap="butt"/>
<path d="M501.8 307.4 C503.83 306.35 509.7 302.52 514 301.1 C518.3 299.68 523.07 298.77 527.6 298.9 C532.13 299.03 535.32 299.95 541.2 301.9 C547.08 303.85 554.75 307.33 562.9 310.6 C571.05 313.87 583.08 318.78 590.1 321.5 C597.12 324.22 598.22 324.42 605 326.9 C611.78 329.38 624.15 333.32 630.8 336.4 C637.45 339.48 642.55 343.9 644.9 345.4" fill="none" stroke="#96bee6" stroke-width="1.8" stroke-linejoin="round" stroke-linecap="butt"/>
<path d="M385 347.1 C386.23 345.68 389.92 341.05 392.4 338.6 C394.88 336.15 396.78 334.57 399.9 332.4 C403.02 330.23 407.15 327.78 411.1 325.6 C415.05 323.42 420.07 320.65 423.6 319.3 C427.13 317.95 429.57 317.7 432.3 317.5 C435.03 317.3 437.05 317.73 440 318.1 C442.95 318.47 446.27 318.97 450 319.7 C453.73 320.43 458.25 321.32 462.4 322.5 C466.55 323.68 470.75 325.35 474.9 326.8 C479.05 328.25 482.82 329.6 487.3 331.2 C491.78 332.8 499.38 335.53 501.8 336.4" fill="none" stroke="#1b65b3" stroke-width="2.1" stroke-linejoin="round" stroke-linecap="butt"/>
<path d="M501.8 273.1 C503.38 271.65 508.13 266.83 511.3 264.4 C514.47 261.97 518.08 259.77 520.8 258.5 C523.52 257.23 525.12 256.62 527.6 256.8 C530.08 256.98 532.08 257.87 535.7 259.6 C539.32 261.33 544.32 264.22 549.3 267.2 C554.28 270.18 560.62 274.57 565.6 277.5 C570.58 280.43 574.67 282.08 579.2 284.8 C583.73 287.52 588.5 291.22 592.8 293.8 C597.1 296.38 600.93 297.87 605 300.3 C609.07 302.73 612.9 305.42 617.2 308.4 C621.5 311.38 626.18 314.07 630.8 318.2 C635.42 322.33 642.55 330.7 644.9 333.2" fill="none" stroke="#1b65b3" stroke-width="2" stroke-linejoin="round" stroke-linecap="butt"/>
<line x1="95.9" y1="203.9" x2="109.8" y2="203.9" stroke="#000000" stroke-width="2"/>
<text x="111" y="206.35" text-anchor="start" font-size="6.8" font-weight="normal" fill="#3a3a3a" textLength="49.8" lengthAdjust="spacingAndGlyphs">RADIANT QX8120</text>
<line x1="204.2" y1="203.9" x2="218.3" y2="203.9" stroke="#bfbfbf" stroke-width="2"/>
<text x="218.6" y="206.35" text-anchor="start" font-size="6.8" font-weight="normal" fill="#3a3a3a" textLength="50.5" lengthAdjust="spacingAndGlyphs">RADIANT QX4220</text>
<line x1="423.3" y1="207.85" x2="438" y2="207.85" stroke="#000000" stroke-width="2"/>
<text x="438.3" y="210.3" text-anchor="start" font-size="6.8" font-weight="normal" fill="#3a3a3a" textLength="53.1" lengthAdjust="spacingAndGlyphs">RADIANT QX4110P</text>
<line x1="532.1" y1="207.85" x2="546.5" y2="207.85" stroke="#bfbfbf" stroke-width="2"/>
<text x="546.8" y="210.3" text-anchor="start" font-size="6.8" font-weight="normal" fill="#3a3a3a" textLength="55.5" lengthAdjust="spacingAndGlyphs">RADIANT QX 4110A</text>
<line x1="66.5" y1="416" x2="81" y2="416" stroke="#000000" stroke-width="2"/>
<text x="81.2" y="418.45" text-anchor="start" font-size="6.8" font-weight="normal" fill="#3a3a3a" textLength="49.6" lengthAdjust="spacingAndGlyphs">RADIANT QX8130</text>
<line x1="66.5" y1="426.3" x2="81" y2="426.3" stroke="#bfbfbf" stroke-width="2"/>
<text x="81.2" y="428.75" text-anchor="start" font-size="6.8" font-weight="normal" fill="#3a3a3a" textLength="49.6" lengthAdjust="spacingAndGlyphs">RADIANT QX4130</text>
<line x1="195" y1="416" x2="208.6" y2="416" stroke="#1b65b3" stroke-width="2"/>
<text x="208.6" y="418.45" text-anchor="start" font-size="6.8" font-weight="normal" fill="#3a3a3a" textLength="89" lengthAdjust="spacingAndGlyphs">RADIANT QX8130 w/ UV option</text>
<line x1="195" y1="426.2" x2="208.6" y2="426.2" stroke="#96bee6" stroke-width="2"/>
<text x="208.6" y="428.65" text-anchor="start" font-size="6.8" font-weight="normal" fill="#3a3a3a" textLength="89" lengthAdjust="spacingAndGlyphs">RADIANT QX4130 w/ UV option</text>
</svg></body></html>
